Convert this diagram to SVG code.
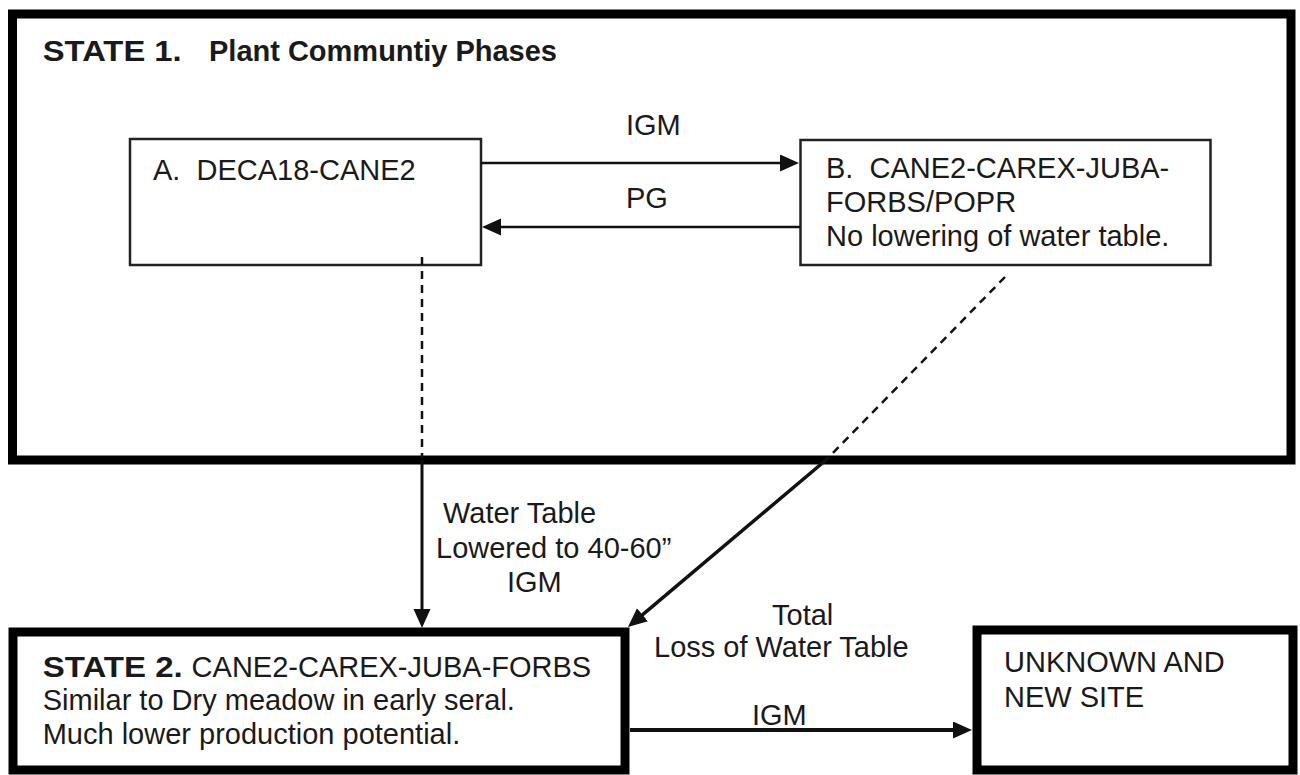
<svg xmlns="http://www.w3.org/2000/svg" width="1300" height="775" viewBox="0 0 1300 775">
<style>
text{font-family:"Liberation Sans",Arial,sans-serif;font-size:29px;fill:#1a1a1a}
.b{font-weight:bold;font-size:29px}
.state{fill:#fff;stroke:#000;stroke-width:9}
.phase{fill:#fff;stroke:#222;stroke-width:2.5}
.c{stroke:#111;fill:none}
.dash{stroke:#111;stroke-width:2.5;stroke-dasharray:8,6;fill:none}
</style>
<defs>
<marker id="ah" markerUnits="userSpaceOnUse" markerWidth="20" markerHeight="18" refX="9" refY="8.5" orient="auto">
<path d="M0,0 L19,8.5 L0,17 z" fill="#111"/>
</marker>
</defs>
<rect width="1300" height="775" fill="#fff"/>
<g id="state1">
<rect class="state" x="12.5" y="14" width="1278.5" height="446"/>
<text class="b" x="42.7" y="61" textLength="139" lengthAdjust="spacingAndGlyphs">STATE 1.</text>
<text class="b" x="209" y="61" textLength="348" lengthAdjust="spacingAndGlyphs">Plant Communtiy Phases</text>
</g>
<g id="phaseA">
<rect class="phase" x="130" y="139" width="351" height="126"/>
<text x="153" y="180" xml:space="preserve">A.  DECA18-CANE2</text>
</g>
<g id="phaseB">
<rect class="phase" x="800.5" y="140" width="410" height="125"/>
<text x="826" y="178" xml:space="preserve">B.  CANE2-CAREX-JUBA-</text>
<text x="826" y="212">FORBS/POPR</text>
<text x="826" y="246">No lowering of water table.</text>
</g>
<g id="state2">
<rect class="state" x="13" y="632" width="612" height="138"/>
<text class="b" x="42.7" y="677" textLength="140" lengthAdjust="spacingAndGlyphs">STATE 2.</text>
<text x="191.6" y="677">CANE2-CAREX-JUBA-FORBS</text>
<text x="42.7" y="710">Similar to Dry meadow in early seral.</text>
<text x="42.7" y="744">Much lower production potential.</text>
</g>
<g id="unknown">
<rect class="state" x="977" y="630" width="316" height="140"/>
<text x="1004" y="672">UNKNOWN AND</text>
<text x="1004" y="707">NEW SITE</text>
</g>
<g id="connectors">
<line class="c" x1="481" y1="163" x2="789" y2="163" stroke-width="2.5" marker-end="url(#ah)"/>
<line class="c" x1="800" y1="227" x2="492" y2="227" stroke-width="2.5" marker-end="url(#ah)"/>
<line class="dash" x1="422" y1="257" x2="422" y2="458"/>
<line class="c" x1="422" y1="460" x2="422" y2="618" stroke-width="3" marker-end="url(#ah)"/>
<line class="dash" x1="1005" y1="277" x2="826" y2="460"/>
<line class="c" x1="826" y1="460" x2="635.6" y2="620.6" stroke-width="3.5" marker-end="url(#ah)"/>
<line class="c" x1="630" y1="730" x2="962" y2="730" stroke-width="4" marker-end="url(#ah)"/>
<text x="626" y="135">IGM</text>
<text x="626" y="208">PG</text>
<text x="443" y="523">Water Table</text>
<text x="436" y="558">Lowered to 40-60”</text>
<text x="507" y="592">IGM</text>
<text x="772" y="625">Total</text>
<text x="654" y="657">Loss of Water Table</text>
<text x="752" y="725">IGM</text>
</g>
</svg>
